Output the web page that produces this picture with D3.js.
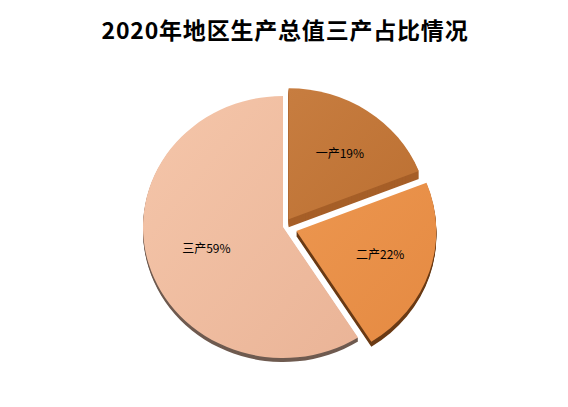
<!DOCTYPE html>
<html>
<head>
<meta charset="utf-8">
<script src="https://cdn.jsdelivr.net/npm/d3@7"></script>
<style>
  body { margin: 0; background: #fff; }
</style>
</head>
<body>
<div id="chart"></div>
<script>
// data
const categories = ["一产", "二产", "三产"];
const shares = [19, 22, 59];
const chartTitle = "2020年地区生产总值三产占比情况";

const width = 568, height = 407;
const cx = 283, cy = 227, rx = 140, ry = 131;
const squash = ry / rx;

// look of each slice
const topColors = [["#c77d40", "#bc7032"], ["#ec964f", "#e58a42"], ["#f5c6aa", "#eab497"]];
const sideColors = ["#a65f28", "#6a3a14", "#6f5b50"];
const depth = [8, 5, 4];
const explode = [10, 14, 0];

const svg = d3.select("#chart").append("svg")
    .attr("width", width)
    .attr("height", height);

const defs = svg.append("defs");
topColors.forEach((c, i) => {
    const g = defs.append("linearGradient")
        .attr("id", "grad" + i)
        .attr("x1", "0%").attr("y1", "0%")
        .attr("x2", "100%").attr("y2", "100%");
    g.append("stop").attr("offset", "0%").attr("stop-color", c[0]);
    g.append("stop").attr("offset", "100%").attr("stop-color", c[1]);
});

// title
svg.append("text")
    .attr("x", 285)
    .attr("y", 39)
    .attr("text-anchor", "middle")
    .style("font-family", "'Noto Sans CJK SC', sans-serif")
    .style("font-size", "23px")
    .style("font-weight", "bold")
    .style("letter-spacing", "0.8px")
    .text(chartTitle);

const pie = d3.pie().sort(null).startAngle(0).endAngle(2 * Math.PI);
const arcs = pie(shares);
const arc = d3.arc().innerRadius(0).outerRadius(rx);

// offset of each slice along its bisector (pie space)
function shift(d, i) {
    const a = (d.startAngle + d.endAngle) / 2;
    return [Math.sin(a) * explode[i], -Math.cos(a) * explode[i]];
}

// draw back slice first so exploded ones sit on top
const order = [2, 1, 0];

order.forEach(i => {
    const d = arcs[i];
    const [ox, oy] = shift(d, i);
    const px = cx + ox, py = cy + oy * squash;

    // side / depth of the slice
    for (let k = depth[i]; k >= 1; k--) {
        svg.append("path")
            .attr("d", arc(d))
            .attr("transform", `translate(${px},${py + k}) scale(1,${squash})`)
            .attr("fill", sideColors[i]);
    }

    // top face
    svg.append("path")
        .attr("d", arc(d))
        .attr("transform", `translate(${px},${py}) scale(1,${squash})`)
        .attr("fill", `url(#grad${i})`);
});

// labels
const labelArc = d3.arc().innerRadius(0).outerRadius(rx * 1.2);
arcs.forEach((d, i) => {
    const [ox, oy] = shift(d, i);
    const [lx, ly] = labelArc.centroid(d);
    svg.append("text")
        .attr("x", cx + ox + lx + 4)
        .attr("y", cy + (oy + ly) * squash + 4)
        .attr("text-anchor", "middle")
        .style("font-family", "'Noto Sans CJK SC', sans-serif")
        .style("font-size", "12px")
        .text(categories[i] + shares[i] + "%");
});
</script>
</body>
</html>
